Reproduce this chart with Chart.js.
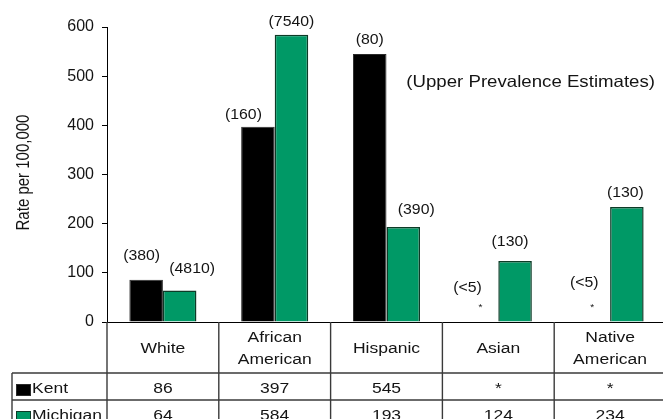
<!DOCTYPE html>
<html>
<head>
<meta charset="utf-8">
<script src="https://cdn.jsdelivr.net/npm/chart.js@4.4.1/dist/chart.umd.min.js"></script>
<style>
  html, body { margin: 0; padding: 0; background: #fff; overflow: hidden; }
  #wrap { width: 666px; height: 419px; }
</style>
</head>
<body>
<div id="wrap"><canvas id="c" width="666" height="419"></canvas></div>
<script>
// Rates per 100,000 by race/ethnicity, Kent County vs. Michigan
const categories = [['White'], ['African', 'American'], ['Hispanic'], ['Asian'], ['Native', 'American']];
const seriesNames = ['Kent', 'Michigan'];
const kentRates = [86, 397, 545, null, null];          // null = suppressed (*)
const michiganRates = [64, 584, 193, 124, 234];
const kentCases = ['(380)', '(160)', '(80)', '(<5)', '(<5)'];
const michiganCases = ['(4810)', '(7540)', '(390)', '(130)', '(130)'];
const yTicks = [0, 100, 200, 300, 400, 500, 600];
const noteText = '(Upper Prevalence Estimates)';
const yTitle = 'Rate per 100,000';

const FONT = '"Liberation Sans", Arial, Helvetica, sans-serif';
const INK = '#141414';
const KENT_FILL = '#000000';
const MICH_FILL = '#009966';
const MICH_EDGE = '#0d3b27';
const RULE = '#3a3a3a';
const STRETCH = 1.13;

Chart.defaults.font.family = FONT;
Chart.defaults.color = INK;

// text drawn slightly wide, like the rest of the figure's lettering
function wideText(ctx, text, x, y, align) {
  ctx.save();
  ctx.translate(x, y);
  ctx.scale(STRETCH, 1);
  ctx.textAlign = align || 'center';
  ctx.fillText(text, 0, 0);
  ctx.restore();
}
function rule(ctx, x1, y1, x2, y2) {
  ctx.beginPath();
  ctx.moveTo(x1, y1);
  ctx.lineTo(x2, y2);
  ctx.stroke();
}
const cellText = v => (v == null ? '*' : String(v));

const rateTable = {
  id: 'rateTable',
  afterDatasetsDraw(chart, args, opts) {
    const { ctx, chartArea, scales: { x, y } } = chart;
    const base = y.getPixelForValue(0);
    ctx.save();
    ctx.fillStyle = INK;
    ctx.textBaseline = 'middle';

    // vertical axis title, thickened across the glyphs to match the wide lettering
    ctx.save();
    ctx.translate(24, (chartArea.top + chartArea.bottom) / 2 - 2);
    ctx.rotate(-Math.PI / 2);
    ctx.scale(1, 1.2);
    ctx.font = `15px ${FONT}`;
    ctx.textAlign = 'center';
    ctx.fillText(yTitle, 0, 0);
    ctx.restore();

    // case counts above each bar, suppressed bars marked with a small star
    chart.data.datasets.forEach((ds, di) => {
      const meta = chart.getDatasetMeta(di);
      ds.cases.forEach((txt, i) => {
        const el = meta.data[i];
        const cx = el.x;
        const top = ds.data[i] == null ? base : el.y;
        const [dx, gap] = opts.caseShift[di][i];
        ctx.font = `14px ${FONT}`;
        wideText(ctx, txt, cx + dx, top - gap);
        if (ds.data[i] == null) {
          ctx.font = `9px ${FONT}`;
          wideText(ctx, '*', cx - 1, base - 14);
        }
      });
    });

    // note inside the plot
    ctx.font = `16.5px ${FONT}`;
    wideText(ctx, noteText, chartArea.right - 11, y.getPixelForValue(488), 'right');

    // data table below the axis
    const left = 12;
    const axisX = chartArea.left;
    const headBottom = base + 51;
    const row1Bottom = headBottom + 27;
    const row2Bottom = row1Bottom + 27;
    const right = chart.width;
    const bottom = chart.height;
    ctx.strokeStyle = RULE;
    ctx.lineWidth = 1.4;
    rule(ctx, left, headBottom, right, headBottom);
    rule(ctx, left, row1Bottom, right, row1Bottom);
    rule(ctx, left, headBottom, left, bottom);
    rule(ctx, axisX, base, axisX, bottom);
    const n = categories.length;
    for (let i = 1; i < n; i++) {
      const bx = (x.getPixelForValue(i - 1) + x.getPixelForValue(i)) / 2;
      rule(ctx, bx, base, bx, bottom);
    }

    ctx.font = `15.5px ${FONT}`;
    const headMid = (base + headBottom) / 2;
    categories.forEach((lines, i) => {
      const cx = x.getPixelForValue(i);
      const lh = 22;
      lines.forEach((ln, k) => {
        wideText(ctx, ln, cx, headMid + 1 + (k - (lines.length - 1) / 2) * lh);
      });
    });

    const rows = [kentRates, michiganRates];
    const rowMid = [(headBottom + row1Bottom) / 2 + 2.5, (row1Bottom + row2Bottom) / 2 + 2.5];
    rows.forEach((vals, r) => {
      vals.forEach((v, i) => {
        wideText(ctx, cellText(v), x.getPixelForValue(i), rowMid[r]);
      });
      // legend key
      const ds = chart.data.datasets[r];
      ctx.fillStyle = ds.backgroundColor;
      ctx.fillRect(16, rowMid[r] - 5, 15, 12);
      ctx.strokeStyle = ds.borderColor;
      ctx.lineWidth = 1;
      ctx.strokeRect(16.5, rowMid[r] - 4.5, 14, 11);
      ctx.fillStyle = INK;
      wideText(ctx, seriesNames[r], 32, rowMid[r], 'left');
    });
    ctx.restore();
  }
};

new Chart(document.getElementById('c'), {
  type: 'bar',
  data: {
    labels: categories,
    datasets: [
      {
        label: seriesNames[0],
        data: kentRates,
        cases: kentCases,
        backgroundColor: KENT_FILL,
        borderColor: '#2a2a2a',
        borderWidth: 1
      },
      {
        label: seriesNames[1],
        data: michiganRates,
        cases: michiganCases,
        backgroundColor: MICH_FILL,
        borderColor: MICH_EDGE,
        borderWidth: 1.5
      }
    ]
  },
  options: {
    responsive: false,
    animation: false,
    devicePixelRatio: 1,
    layout: { padding: { top: 27, right: 0, bottom: 0, left: 0 } },
    datasets: { bar: { categoryPercentage: 0.6, barPercentage: 1.0 } },
    plugins: {
      legend: { display: false },
      tooltip: { enabled: false },
      rateTable: {
        caseShift: [
          [[-4.5, 24], [-14.5, 12], [0, 14], [-14, 34], [-9, 39]],
          [[12.5, 21], [0, 13], [13, 17], [-5, 19], [-1.5, 14]]
        ]
      }
    },
    scales: {
      x: {
        grid: { display: false },
        ticks: { display: false },
        border: { display: true, color: '#000', width: 1 },
        afterFit(scale) { scale.height = 97; }
      },
      y: {
        min: 0,
        max: 600,
        afterBuildTicks(scale) { scale.ticks = yTicks.map(v => ({ value: v })); },
        ticks: { font: { size: 16 }, color: INK, padding: 8 },
        grid: { drawOnChartArea: false, drawTicks: true, tickLength: 5, color: '#000', lineWidth: 1 },
        border: { display: true, color: '#000', width: 1 },
        title: { display: false },
        afterFit(scale) { scale.width = 107; }
      }
    }
  },
  plugins: [rateTable]
});
</script>
</body>
</html>
